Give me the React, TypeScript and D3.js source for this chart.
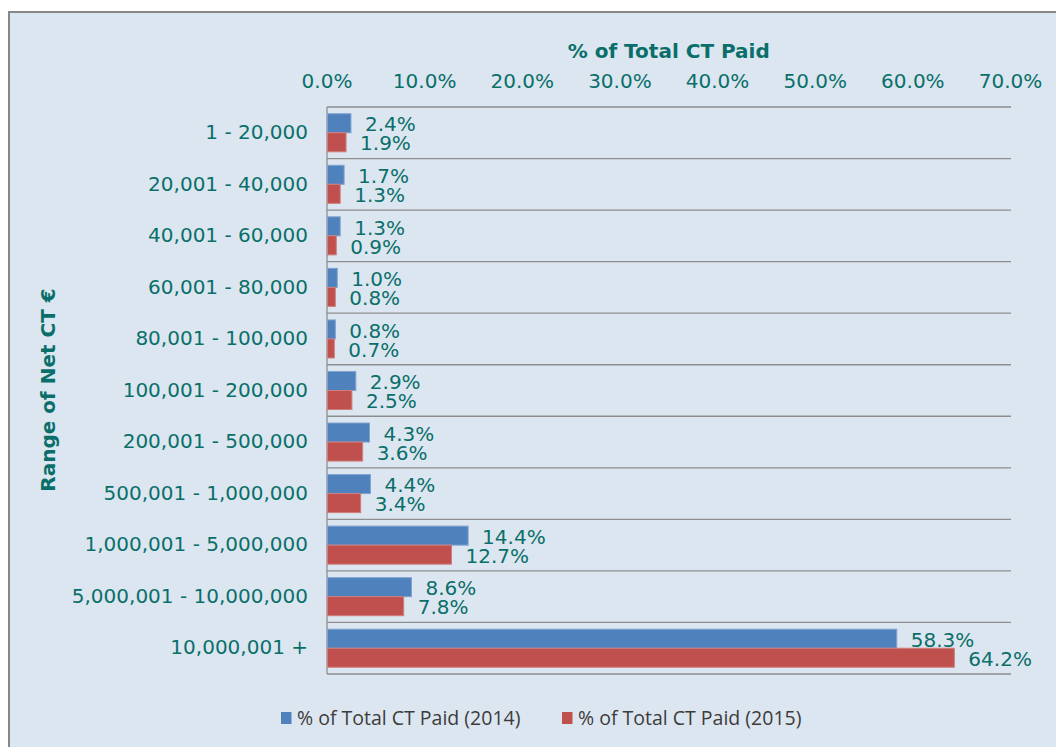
import React from "react";
import * as d3 from "d3";

const categories = [
  "1 - 20,000",
  "20,001 - 40,000",
  "40,001 - 60,000",
  "60,001 - 80,000",
  "80,001 - 100,000",
  "100,001 - 200,000",
  "200,001 - 500,000",
  "500,001 - 1,000,000",
  "1,000,001 - 5,000,000",
  "5,000,001 - 10,000,000",
  "10,000,001 +",
];
const values2014 = [2.4, 1.7, 1.3, 1.0, 0.8, 2.9, 4.3, 4.4, 14.4, 8.6, 58.3];
const values2015 = [1.9, 1.3, 0.9, 0.8, 0.7, 2.5, 3.6, 3.4, 12.7, 7.8, 64.2];
const seriesNames = ["% of Total CT Paid (2014)", "% of Total CT Paid (2015)"];
const xTicks = [0, 10, 20, 30, 40, 50, 60, 70];

const W = 1056;
const H = 747;
const TEAL = "#0a6f6a";
const COLORS = ["#4f81bd", "#c0504d"];
const STROKES = ["#7fa2cf", "#cf7f7d"];

export default function App() {
  const x = d3.scaleLinear().domain([0, 70]).range([327, 1010.5]);
  const y = d3.scaleBand<string>().domain(categories).range([107, 674]).paddingInner(0).paddingOuter(0);
  const sub = d3
    .scaleBand<string>()
    .domain(["0", "1"])
    .range([0, y.bandwidth()])
    .paddingInner(0)
    .paddingOuter(0.355);
  const series = [values2014, values2015];
  const fmt = d3.format(".1f");

  return (
    <div style={{ position: "absolute", left: 0, top: 0 }}>
      <svg width={W} height={H} style={{ display: "block" }} fontFamily="'DejaVu Sans', Verdana, sans-serif">
        <rect x={0} y={0} width={W} height={H} fill="#ffffff" />
        <rect x={9} y={12} width={W + 40} height={H + 40} fill="#dce6f0" stroke="#878787" strokeWidth={2} />

        {/* gridlines */}
        {d3.range(categories.length + 1).map((i) => {
          const yy = i < categories.length ? (y(categories[i]) as number) : 674;
          return (
            <line key={"g" + i} x1={x(0)} x2={1011} y1={yy} y2={yy} stroke="#8e8e8e" strokeWidth={1.3} />
          );
        })}
        <line x1={x(0)} x2={x(0)} y1={107} y2={674} stroke="#8e8e8e" strokeWidth={1.3} />

        {/* bars */}
        {categories.map((c, i) =>
          series.map((vals, s) => {
            const by = (y(c) as number) + (sub(String(s)) as number);
            return (
              <rect
                key={c + s}
                x={x(0) + 0.5}
                y={by}
                width={x(vals[i]) - x(0)}
                height={sub.bandwidth()}
                fill={COLORS[s]}
                stroke={STROKES[s]}
                strokeWidth={1}
              />
            );
          })
        )}

        {/* data labels */}
        {categories.map((c, i) =>
          series.map((vals, s) => {
            const by = (y(c) as number) + (sub(String(s)) as number) + sub.bandwidth() / 2;
            return (
              <text
                key={"l" + c + s}
                x={x(vals[i]) + 14.5}
                y={by + 1}
                dy="0.36em"
                fontSize={20}
                fill={TEAL}
              >
                {fmt(vals[i]) + "%"}
              </text>
            );
          })
        )}

        {/* category labels */}
        {categories.map((c) => (
          <text
            key={"c" + c}
            x={308}
            y={(y(c) as number) + y.bandwidth() / 2 - 1}
            dy="0.36em"
            textAnchor="end"
            fontSize={20}
            fill={TEAL}
          >
            {c}
          </text>
        ))}

        {/* x tick labels */}
        {xTicks.map((t) => (
          <text key={"t" + t} x={x(t)} y={88} textAnchor="middle" fontSize={20} fill={TEAL}>
            {fmt(t) + "%"}
          </text>
        ))}

        {/* axis titles */}
        <text x={(x(0) + x(70)) / 2} y={58} textAnchor="middle" fontSize={20} fontWeight="bold" fill={TEAL}>
          % of Total CT Paid
        </text>
        <text
          transform="translate(55,390) rotate(-90)"
          textAnchor="middle"
          fontSize={20}
          fontWeight="bold"
          fill={TEAL}
        >
          Range of Net CT €
        </text>

        {/* legend */}
        {seriesNames.map((n, s) => {
          const lx = s === 0 ? 281 : 562;
          return (
            <g key={"lg" + s}>
              <rect x={lx} y={712} width={10.5} height={12} fill={COLORS[s]} />
              <text x={lx + 16} y={724.5} fontSize={19.5} fontFamily="'Open Sans', 'Noto Sans', sans-serif" fill="#3c3c3c">
                {n}
              </text>
            </g>
          );
        })}
      </svg>
    </div>
  );
}
